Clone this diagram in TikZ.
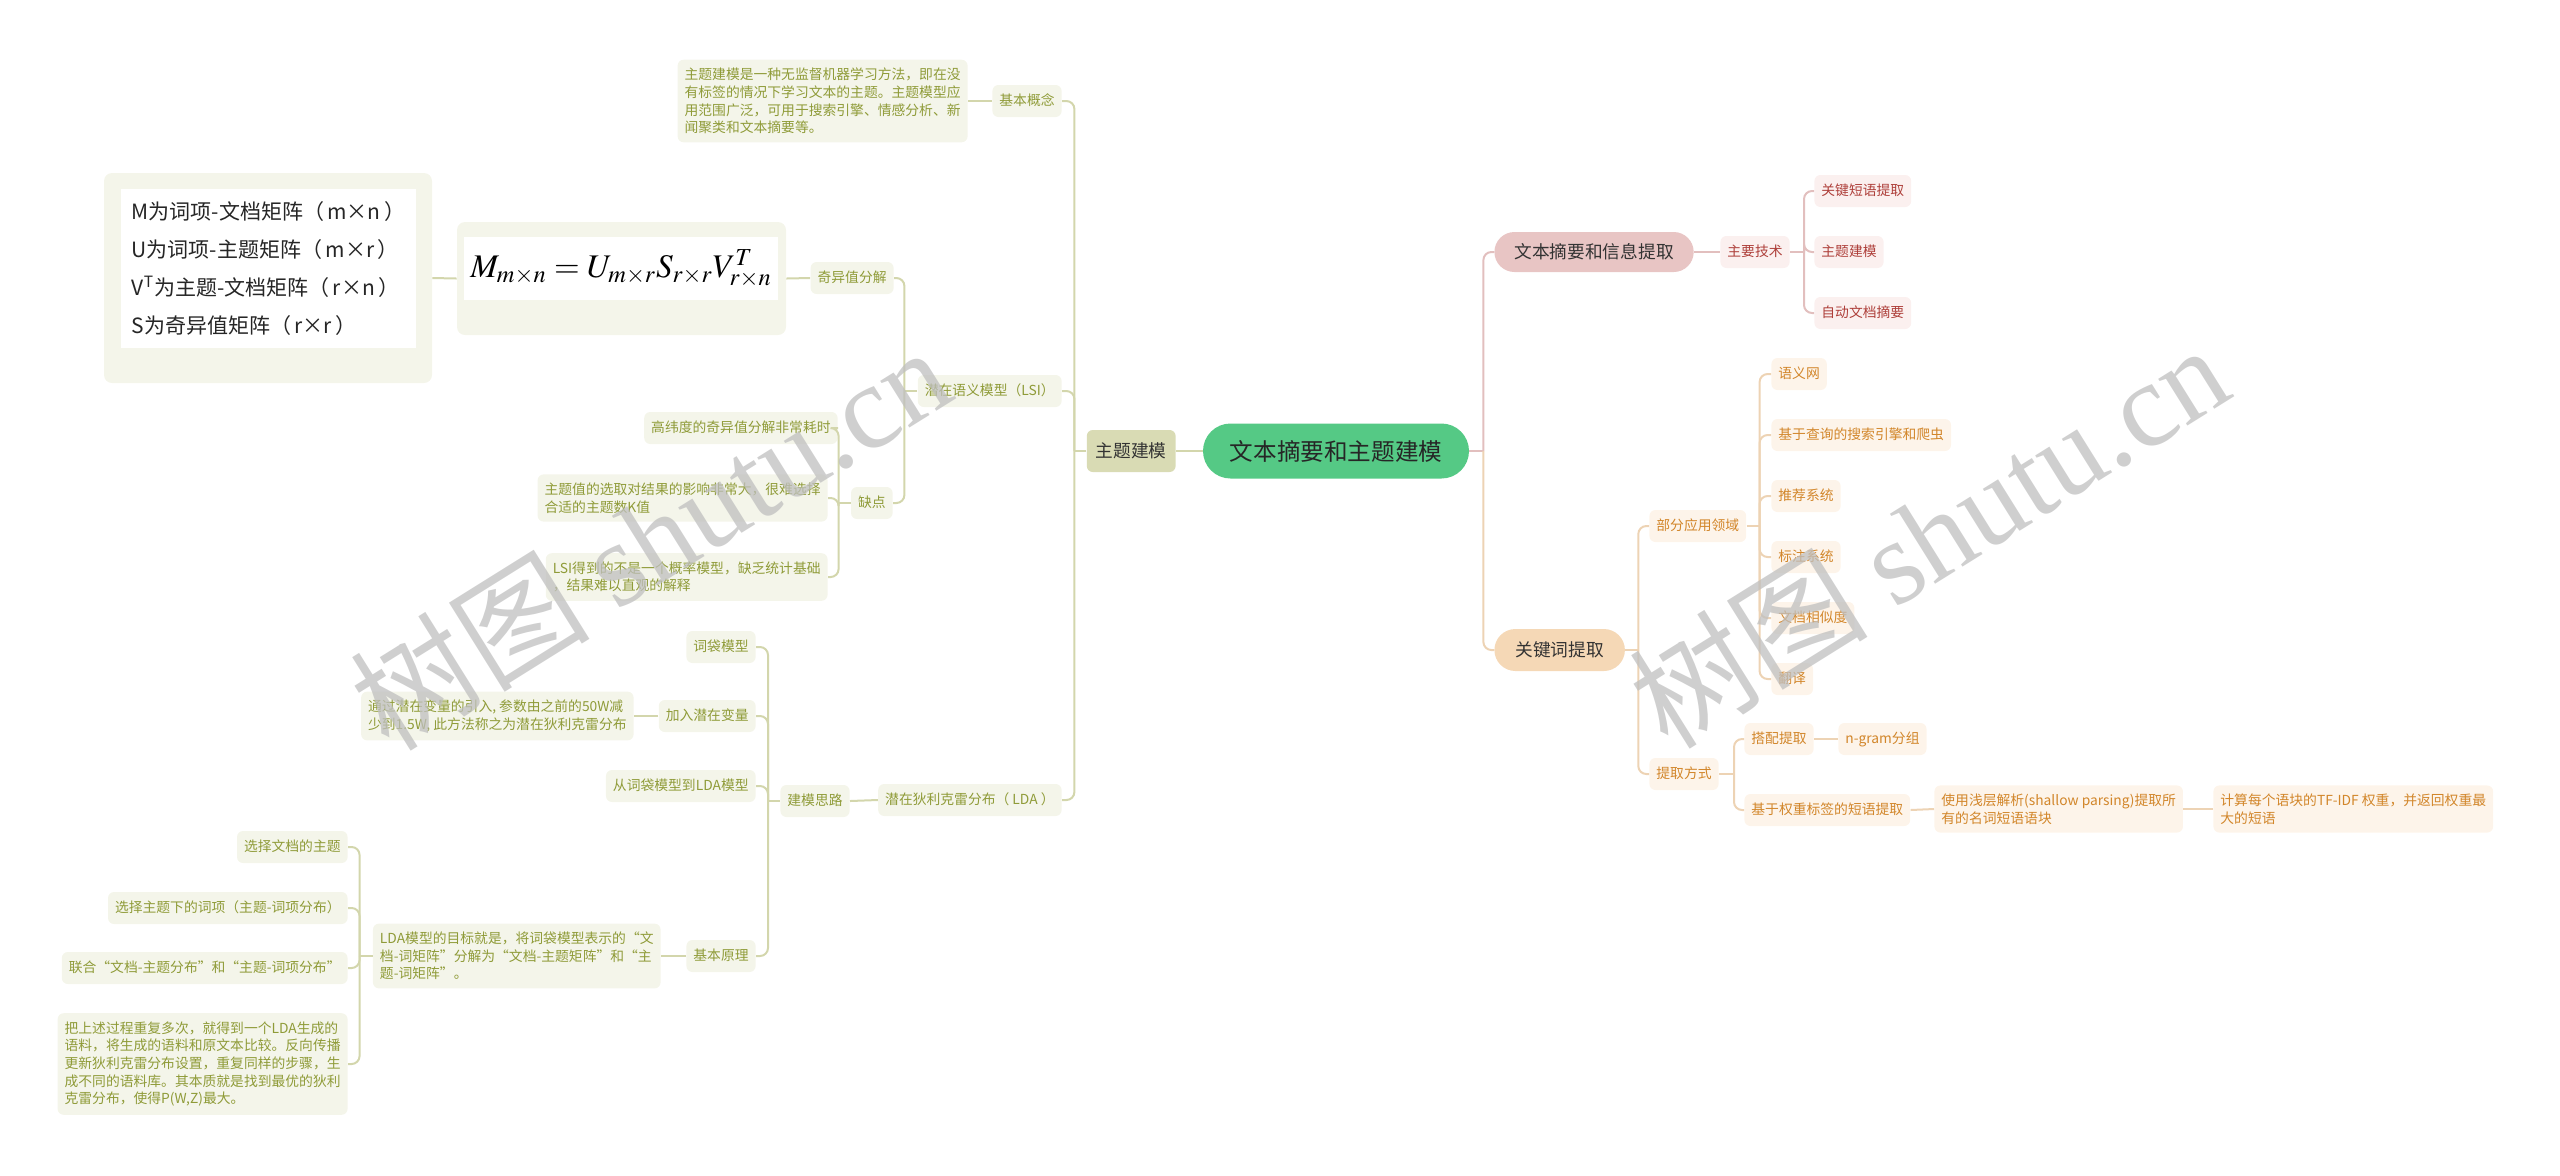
\documentclass[tikz,border=0pt]{standalone}
\usepackage{mathptmx}
\usepackage{fontspec}
\usepackage{xcolor}
\usepackage{tikz}
\setmainfont{Noto Sans CJK SC}
\newfontfamily\markfont{Liberation Serif}
\definecolor{rootgreen}{HTML}{55C985}
\definecolor{tmfill}{HTML}{D9DBB4}
\definecolor{tmpale}{HTML}{F4F5EA}
\definecolor{tmtext}{HTML}{8F9B38}
\definecolor{tmedge}{HTML}{D3D6AC}
\definecolor{iefill}{HTML}{E8C5C4}
\definecolor{iepale}{HTML}{FBF0EF}
\definecolor{ietext}{HTML}{AE3F3A}
\definecolor{ieedge}{HTML}{E2BFBE}
\definecolor{kwfill}{HTML}{F5D8B6}
\definecolor{kwpale}{HTML}{FDF4EA}
\definecolor{kwtext}{HTML}{D2862A}
\definecolor{kwedge}{HTML}{EDD3B4}

\begin{document}
\begin{tikzpicture}[x=0.5pt,y=-0.5pt,
  leaf/.style={rounded corners=3pt,inner xsep=3.5pt,inner ysep=4.2pt,
    text height=6pt,text depth=1.6pt,font=\fontsize{6.9}{8.8}\selectfont},
  note/.style={rounded corners=3pt,inner xsep=3.5pt,inner ysep=4.2pt,
    align=left,font=\fontsize{6.9}{8.8}\selectfont},
  tmleaf/.style={leaf,fill=tmpale,text=tmtext,anchor=east},
  tmnote/.style={note,fill=tmpale,text=tmtext,anchor=east},
  ieleaf/.style={leaf,fill=iepale,text=ietext,anchor=west},
  kwleaf/.style={leaf,fill=kwpale,text=kwtext,anchor=west},
  kwnote/.style={note,fill=kwpale,text=kwtext,anchor=west},
  branch/.style={font=\fontsize{8.85}{11}\selectfont,text=black!80,minimum height=21pt},
  tmline/.style={draw=tmedge,line width=1pt,rounded corners=4pt},
  ieline/.style={draw=ieedge,line width=1pt,rounded corners=4pt},
  kwline/.style={draw=kwedge,line width=1pt,rounded corners=4pt},
  watermark/.style={text=black!25,opacity=.75,font=\fontsize{60}{60}\selectfont,rotate=32}]
  \useasboundingbox (0,0) rectangle (2560,1175);

  \node[fill=rootgreen,text=black!85,rounded corners=13.75pt,minimum width=133pt,
    minimum height=27.5pt,font=\fontsize{11.8}{14}\selectfont] (root) at (1336,451) {文本摘要和主题建模};

  % topic modelling side
  \node[branch,fill=tmfill,rounded corners=3pt,inner xsep=4.5pt,anchor=east] (tm) at (1176,451) {主题建模};
  \node[tmleaf] (basic) at (1062,101) {基本概念};
  \node[tmnote] (basicnote) at (968,101) {主题建模是一种无监督机器学习方法，即在没\\有标签的情况下学习文本的主题。主题模型应\\用范围广泛，可用于搜索引擎、情感分析、新\\闻聚类和文本摘要等。};
  \node[tmleaf] (lsi) at (1062,391) {潜在语义模型（LSI）};
  \node[tmleaf] (svd) at (894,278) {奇异值分解};
  \node[fill=tmpale,rounded corners=4pt,minimum width=164.5pt,minimum height=56.5pt] (eqbox) at (621.5,278.5) {};
  \node[fill=white,minimum width=148pt,minimum height=31.5pt,font=\fontsize{16.5}{18}\selectfont] (eq) at (621,268.5)
    {$M_{m\times n}=U_{m\times r}S_{r\times r}V^{T}_{r\times n}$};
  \node[fill=tmpale,rounded corners=4pt,minimum width=164pt,minimum height=105pt] (keybox) at (268,278) {};
  \node[fill=white,minimum width=147.5pt,minimum height=79.5pt,align=left,text=black!85,
    font=\fontsize{10.5}{19}\selectfont] (key) at (268.5,268.5)
    {M为词项-文档矩阵（\,m×n\,）\\U为词项-主题矩阵（\,m×r\,）\\V\textsuperscript{T}为主题-文档矩阵（\,r×n\,）\\S为奇异值矩阵（\,r×r\,）};
  \node[tmleaf] (flaw) at (893,503) {缺点};
  \node[tmleaf] (flaw1) at (838,428) {高纬度的奇异值分解非常耗时};
  \node[tmnote] (flaw2) at (828,498) {主题值的选取对结果的影响非常大，很难选择\\合适的主题数K值};
  \node[tmnote] (flaw3) at (828,577) {LSI得到的不是一个概率模型，缺乏统计基础\\，结果难以直观的解释};
  \node[tmleaf] (lda) at (1062,800) {潜在狄利克雷分布（ LDA ）};
  \node[tmleaf] (idea) at (850,801) {建模思路};
  \node[tmleaf] (bow) at (756,647) {词袋模型};
  \node[tmleaf] (latent) at (756,716) {加入潜在变量};
  \node[tmnote] (latentnote) at (634,716) {通过潜在变量的引入, 参数由之前的50W减\\少到1.5W, 此方法称之为潜在狄利克雷分布};
  \node[tmleaf] (bowlda) at (756,786) {从词袋模型到LDA模型};
  \node[tmleaf] (principle) at (756,956) {基本原理};
  \node[tmnote] (goal) at (661,956) {LDA模型的目标就是，将词袋模型表示的“文\\档-词矩阵”分解为“文档-主题矩阵”和“主\\题-词矩阵”。};
  \node[tmleaf] (step1) at (348,847) {选择文档的主题};
  \node[tmleaf] (step2) at (348,908) {选择主题下的词项（主题-词项分布）};
  \node[tmleaf] (step3) at (348,968) {联合“文档-主题分布”和“主题-词项分布”};
  \node[tmnote] (step4) at (348,1064) {把上述过程重复多次，就得到一个LDA生成的\\语料，将生成的语料和原文本比较。反向传播\\更新狄利克雷分布设置，重复同样的步骤，生\\成不同的语料库。其本质就是找到最优的狄利\\克雷分布，使得P(W,Z)最大。};

  \draw[tmline] (root.west) -- (tm.east);
  \draw[tmline] (tm.west) -- ++(-12,0) coordinate (tmS);
  \draw[tmline] (tmS) |- (basic.east);
  \draw[tmline] (tmS) |- (lsi.east);
  \draw[tmline] (tmS) |- (lda.east);
  \draw[tmline] (basic.west) -- (basicnote.east);
  \draw[tmline] (lsi.west) -- ++(-13,0) coordinate (lsiS);
  \draw[tmline] (lsiS) |- (svd.east);
  \draw[tmline] (lsiS) |- (flaw.east);
  \draw[tmline] (svd.west) -- (eqbox.east);
  \draw[tmline] (eqbox.west) -- (keybox.east);
  \draw[tmline] (flaw.west) -- ++(-12,0) coordinate (flawS);
  \draw[tmline] (flawS) |- (flaw1.east);
  \draw[tmline] (flawS) |- (flaw2.east);
  \draw[tmline] (flawS) |- (flaw3.east);
  \draw[tmline] (lda.west) -- (idea.east);
  \draw[tmline] (idea.west) -- ++(-12,0) coordinate (ideaS);
  \draw[tmline] (ideaS) |- (bow.east);
  \draw[tmline] (ideaS) |- (latent.east);
  \draw[tmline] (ideaS) |- (bowlda.east);
  \draw[tmline] (ideaS) |- (principle.east);
  \draw[tmline] (latent.west) -- (latentnote.east);
  \draw[tmline] (principle.west) -- (goal.east);
  \draw[tmline] (goal.west) -- ++(-13,0) coordinate (goalS);
  \draw[tmline] (goalS) |- (step1.east);
  \draw[tmline] (goalS) |- (step2.east);
  \draw[tmline] (goalS) |- (step3.east);
  \draw[tmline] (goalS) |- (step4.east);

  % summarisation and keyword side
  \node[branch,fill=iefill,rounded corners=10pt,inner xsep=10pt,minimum height=20pt,anchor=west] (ie) at (1494,252) {文本摘要和信息提取};
  \node[ieleaf] (tech) at (1720,252) {主要技术};
  \node[ieleaf] (tech1) at (1814,191) {关键短语提取};
  \node[ieleaf] (tech2) at (1814,252) {主题建模};
  \node[ieleaf] (tech3) at (1814,313) {自动文档摘要};
  \node[branch,fill=kwfill,rounded corners=10.5pt,inner xsep=10.5pt,anchor=west] (kw) at (1494,650) {关键词提取};
  \node[kwleaf] (app) at (1649,526) {部分应用领域};
  \node[kwleaf] (app1) at (1771,374) {语义网};
  \node[kwleaf] (app2) at (1771,435) {基于查询的搜索引擎和爬虫};
  \node[kwleaf] (app3) at (1771,496) {推荐系统};
  \node[kwleaf] (app4) at (1771,557) {标注系统};
  \node[kwleaf] (app5) at (1771,618) {文档相似度};
  \node[kwleaf] (app6) at (1771,679) {翻译};
  \node[kwleaf] (way) at (1649,774) {提取方式};
  \node[kwleaf] (colloc) at (1744,739) {搭配提取};
  \node[kwleaf] (ngram) at (1838,739) {n-gram分组};
  \node[kwleaf] (weight) at (1744,810) {基于权重标签的短语提取};
  \node[kwnote] (parse) at (1934,809) {使用浅层解析(shallow parsing)提取所\\有的名词短语语块};
  \node[kwnote] (tfidf) at (2213,809) {计算每个语块的TF-IDF 权重，并返回权重最\\大的短语};

  \draw[ieline] (root.east) -- ++(14,0) coordinate (rootS);
  \draw[ieline] (rootS) |- (ie.west);
  \draw[kwline] (rootS) |- (kw.west);
  \draw[ieline] (ie.east) -- (tech.west);
  \draw[ieline] (tech.east) -- ++(14,0) coordinate (techS);
  \draw[ieline] (techS) |- (tech1.west);
  \draw[ieline] (techS) |- (tech2.west);
  \draw[ieline] (techS) |- (tech3.west);
  \draw[kwline] (kw.east) -- ++(13,0) coordinate (kwS);
  \draw[kwline] (kwS) |- (app.west);
  \draw[kwline] (kwS) |- (way.west);
  \draw[kwline] (app.east) -- ++(13,0) coordinate (appS);
  \draw[kwline] (appS) |- (app1.west);
  \draw[kwline] (appS) |- (app2.west);
  \draw[kwline] (appS) |- (app3.west);
  \draw[kwline] (appS) |- (app4.west);
  \draw[kwline] (appS) |- (app5.west);
  \draw[kwline] (appS) |- (app6.west);
  \draw[kwline] (way.east) -- ++(15,0) coordinate (wayS);
  \draw[kwline] (wayS) |- (colloc.west);
  \draw[kwline] (wayS) |- (weight.west);
  \draw[kwline] (colloc.east) -- (ngram.west);
  \draw[kwline] (weight.east) -- (parse.west);
  \draw[kwline] (parse.east) -- (tfidf.west);

  \node[watermark] (mark1) at (650,537) {树图 {\markfont shutu.cn}};
  \node[watermark] (mark2) at (1928,535) {树图 {\markfont shutu.cn}};
\end{tikzpicture}
\end{document}
